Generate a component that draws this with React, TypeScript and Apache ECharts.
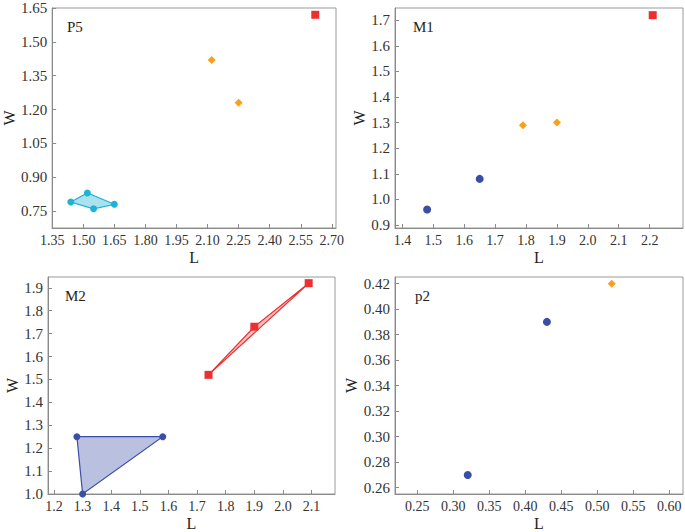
import React, { useEffect, useRef } from "react";
import * as echarts from "echarts";

// ---- Data ----
// P5
const p5Cyan: [number, number][] = [[1.44, 0.79], [1.52, 0.83], [1.65, 0.78], [1.55, 0.76]];
const p5Orange: [number, number][] = [[2.12, 1.42], [2.25, 1.23]];
const p5Red: [number, number][] = [[2.62, 1.62]];
// M1
const m1Blue: [number, number][] = [[1.48, 0.96], [1.65, 1.08]];
const m1Orange: [number, number][] = [[1.79, 1.29], [1.9, 1.3]];
const m1Red: [number, number][] = [[2.21, 1.72]];
// M2
const m2Blue: [number, number][] = [[1.28, 1.25], [1.58, 1.25], [1.3, 1.0]];
const m2Red: [number, number][] = [[1.74, 1.52], [2.09, 1.92], [1.9, 1.73]];
// p2
const p2Blue: [number, number][] = [[0.32, 0.27], [0.43, 0.39]];
const p2Orange: [number, number][] = [[0.52, 0.42]];

// tick labels
const p5XTicks = [1.35, 1.5, 1.65, 1.8, 1.95, 2.1, 2.25, 2.4, 2.55, 2.7];
const p5YTicks = [0.75, 0.9, 1.05, 1.2, 1.35, 1.5, 1.65];
const m1XTicks = [1.4, 1.5, 1.6, 1.7, 1.8, 1.9, 2.0, 2.1, 2.2];
const m1YTicks = [0.9, 1.0, 1.1, 1.2, 1.3, 1.4, 1.5, 1.6, 1.7];
const m2XTicks = [1.2, 1.3, 1.4, 1.5, 1.6, 1.7, 1.8, 1.9, 2.0, 2.1];
const m2YTicks = [1.0, 1.1, 1.2, 1.3, 1.4, 1.5, 1.6, 1.7, 1.8, 1.9];
const p2XTicks = [0.25, 0.3, 0.35, 0.4, 0.45, 0.5, 0.55, 0.6];
const p2YTicks = [0.26, 0.28, 0.3, 0.32, 0.34, 0.36, 0.38, 0.4, 0.42];

const panelNames = ["P5", "M1", "M2", "p2"];

const CYAN = "#1fb3d2";
const BLUE = "#3a4ea5";
const RED = "#ec3030";
const ORANGE = "#f8a01c";
const FONT = "'Liberation Serif', 'Times New Roman', serif";

export default function App() {
  const ref = useRef<HTMLDivElement>(null);
  useEffect(() => {
    if (!ref.current) return;
    const chart = echarts.init(ref.current, null, { renderer: "svg" });

    const grids = [
      { left: 49, top: 8, width: 287, height: 220 },
      { left: 395, top: 8, width: 288, height: 220 },
      { left: 48, top: 277, width: 287, height: 220 },
      { left: 395, top: 277, width: 288, height: 220 },
    ];

    const axisCommon = (ticks: number[], dec: number, name: string, nameGap: number, isY: boolean, min: number, max: number) => ({
      type: "value",
      min,
      max,
      name,
      nameLocation: "middle",
      nameGap,
      nameRotate: isY ? 90 : 0,
      nameTextStyle: { fontFamily: FONT, fontSize: 16, color: "#222" },
      axisLine: { show: true, onZero: false, lineStyle: { color: "#8a8a8a", width: 1 } },
      axisTick: { show: true, inside: true, length: 4, customValues: ticks, lineStyle: { color: "#8a8a8a" } },
      axisLabel: {
        customValues: ticks,
        formatter: (v: number) => v.toFixed(dec),
        fontFamily: FONT,
        fontSize: isY ? 15 : 14,
        color: "#333",
        margin: isY ? 5 : 5,
        showMinLabel: true,
        showMaxLabel: true,
      },
      splitLine: { show: false },
    });

    const xAxes = [
      { ...axisCommon(p5XTicks, 2, "L", 21, false, 1.35, 2.72), gridIndex: 0 },
      { ...axisCommon(m1XTicks, 1, "L", 21, false, 1.376, 2.308), gridIndex: 1 },
      { ...axisCommon(m2XTicks, 1, "L", 21, false, 1.179, 2.182), gridIndex: 2 },
      { ...axisCommon(p2XTicks, 2, "L", 21, false, 0.219, 0.619), gridIndex: 3 },
    ];
    const yAxes = [
      { ...axisCommon(p5YTicks, 2, "W", 34, true, 0.675, 1.65), gridIndex: 0 },
      { ...axisCommon(m1YTicks, 1, "W", 26, true, 0.888, 1.748), gridIndex: 1 },
      { ...axisCommon(m2YTicks, 1, "W", 28, true, 1.0, 1.947), gridIndex: 2 },
      { ...axisCommon(p2YTicks, 2, "W", 35, true, 0.2551, 0.4252), gridIndex: 3 },
    ];

    const polygon = (pts: [number, number][], idx: number, stroke: string, fill: string) => ({
      type: "custom",
      xAxisIndex: idx,
      yAxisIndex: idx,
      data: [[0]],
      z: 2,
      renderItem: (_p: any, api: any) => ({
        type: "polygon",
        shape: { points: pts.map((p) => api.coord(p)) },
        style: { fill, stroke, lineWidth: 1.2 },
      }),
    });

    const scatter = (pts: [number, number][], idx: number, color: string, symbol: string, size: number) => ({
      type: "scatter",
      xAxisIndex: idx,
      yAxisIndex: idx,
      data: pts,
      symbol,
      symbolSize: size,
      clip: false,
      itemStyle: { color, opacity: 1 },
      z: 3,
    });

    const labelPos = [
      [67, 27],
      [413, 27],
      [65, 296],
      [415, 296],
    ];

    chart.setOption({
      animation: false,
      grid: grids.map((g) => ({ ...g, show: true, borderColor: "#9a9a9a", borderWidth: 1, backgroundColor: "transparent" })),
      xAxis: xAxes,
      yAxis: yAxes,
      graphic: panelNames.map((n, i) => ({
        type: "text",
        left: labelPos[i][0],
        top: labelPos[i][1] - 8,
        style: { text: n, font: `15px ${FONT}`, fill: "#222" },
      })),
      series: [
        polygon(p5Cyan, 0, CYAN, "rgba(31,179,210,0.38)"),
        scatter(p5Cyan, 0, CYAN, "circle", 7),
        scatter(p5Orange, 0, ORANGE, "diamond", 8),
        scatter(p5Red, 0, RED, "rect", 8),
        scatter(m1Blue, 1, BLUE, "circle", 8),
        scatter(m1Orange, 1, ORANGE, "diamond", 8),
        scatter(m1Red, 1, RED, "rect", 8),
        polygon(m2Blue, 2, BLUE, "rgba(58,78,165,0.35)"),
        scatter(m2Blue, 2, BLUE, "circle", 7),
        polygon(m2Red, 2, RED, "rgba(236,48,48,0.3)"),
        scatter(m2Red, 2, RED, "rect", 8),
        scatter(p2Blue, 3, BLUE, "circle", 8),
        scatter(p2Orange, 3, ORANGE, "diamond", 8),
      ],
    });
    return () => chart.dispose();
  }, []);
  return (
    <div
      ref={ref}
      style={{ position: "fixed", left: 0, top: 0, width: 685, height: 532, background: "#fff" }}
    />
  );
}
